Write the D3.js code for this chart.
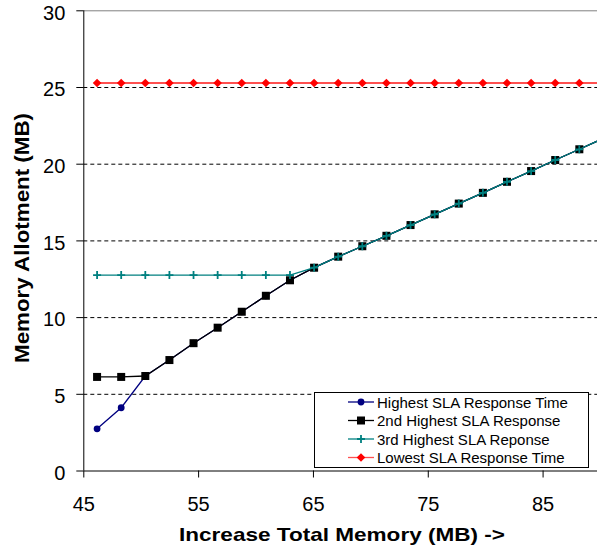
<!DOCTYPE html>
<html>
<head>
<meta charset="utf-8">
<script src="https://cdn.jsdelivr.net/npm/d3@7"></script>
<style>
  body { margin: 0; background: #fff; }
  svg { display: block; font-family: "Liberation Sans", Arial, sans-serif; }
</style>
</head>
<body>
<svg id="chart" width="597" height="550"></svg>
<script>
// memory points along the x axis (MB)
const totalMemory = [46.2, 48.3, 50.4, 52.5, 54.6, 56.7, 58.8, 60.9, 63.0, 65.1, 67.2,
  69.3, 71.4, 73.5, 75.6, 77.7, 79.8, 81.9, 84.0, 86.1, 88.2, 90.3];

const highestSLA = [2.72, 4.09, 6.16, 7.2, 8.3, 9.31, 10.35, 11.39, 12.4, 13.22, 13.94,
  14.62, 15.3, 16.0, 16.7, 17.4, 18.1, 18.82, 19.52, 20.24, 20.94, 21.65];
const secondSLA = [6.1, 6.1, 6.16, 7.2, 8.3, 9.31, 10.35, 11.39, 12.4, 13.22, 13.94,
  14.62, 15.3, 16.0, 16.7, 17.4, 18.1, 18.82, 19.52, 20.24, 20.94, 21.65];
const thirdSLA = [12.74, 12.74, 12.74, 12.74, 12.74, 12.74, 12.74, 12.74, 12.74, 13.22, 13.94,
  14.62, 15.3, 16.0, 16.7, 17.4, 18.1, 18.82, 19.52, 20.24, 20.94, 21.65];
const lowestSLA = [25.26, 25.26, 25.26, 25.26, 25.26, 25.26, 25.26, 25.26, 25.26, 25.26, 25.26,
  25.26, 25.26, 25.26, 25.26, 25.26, 25.26, 25.26, 25.26, 25.26, 25.26, 25.26];

const xTicks = [45, 55, 65, 75, 85];
const yTicks = [0, 5, 10, 15, 20, 25, 30];

const seriesNames = ["Highest SLA Response Time", "2nd Highest SLA Response",
  "3rd Highest SLA Reponse", "Lowest SLA Response Time"];

const series = [
  { name: seriesNames[0], values: highestSLA, color: "#000080", marker: "circle" },
  { name: seriesNames[1], values: secondSLA, color: "#000000", marker: "square" },
  { name: seriesNames[2], values: thirdSLA, color: "#008080", marker: "plus" },
  { name: seriesNames[3], values: lowestSLA, color: "#ff0000", marker: "diamond" },
];

const svg = d3.select("#chart");
const plotLeft = 83.3, plotRight = 600, plotTop = 10.3, plotBottom = 470.5;

const x = d3.scaleLinear().domain([45, 90]).range([plotLeft, plotRight]);
const y = d3.scaleLinear().domain([0, 30]).range([plotBottom, plotTop]);

svg.append("clipPath").attr("id", "plotClip")
  .append("rect")
  .attr("x", plotLeft).attr("y", plotTop - 6)
  .attr("width", plotRight - plotLeft).attr("height", plotBottom - plotTop + 12);

// grid lines
svg.append("g")
  .selectAll("line")
  .data(yTicks.filter((d) => d > 0 && d < 30))
  .join("line")
  .attr("x1", plotLeft).attr("x2", plotRight)
  .attr("y1", (d) => y(d) + 0.5).attr("y2", (d) => y(d) + 0.5)
  .attr("stroke", "#000")
  .attr("stroke-dasharray", "4,3");

// top border
svg.append("line")
  .attr("x1", plotLeft).attr("x2", plotRight)
  .attr("y1", y(30) + 0.5).attr("y2", y(30) + 0.5)
  .attr("stroke", "#808080");

// axes
const yAxis = svg.append("g")
  .attr("transform", `translate(${plotLeft},0)`)
  .call(d3.axisLeft(y).tickValues(yTicks).tickSize(7).tickPadding(0).tickFormat(d3.format("d")));
yAxis.select(".domain").attr("d", `M0.5,${plotTop}V${plotBottom}`).attr("stroke", "#000");
yAxis.selectAll(".tick line").attr("stroke", "#000");
yAxis.selectAll(".tick text")
  .attr("x", -18).attr("dy", null).attr("y", 8.7)
  .attr("font-size", 20).attr("fill", "#000")
  .style("font-family", "'Liberation Sans', Arial, sans-serif");

const xAxis = svg.append("g")
  .attr("transform", `translate(0,${plotBottom})`)
  .call(d3.axisBottom(x).tickValues(xTicks).tickSize(7).tickFormat(d3.format("d")));
xAxis.select(".domain").attr("d", `M${plotLeft},0.5H${plotRight}`).attr("stroke", "#000");
xAxis.selectAll(".tick line").attr("stroke", "#000");
xAxis.selectAll(".tick text")
  .attr("y", 40.5).attr("dy", null)
  .attr("font-size", 20).attr("fill", "#000")
  .style("font-family", "'Liberation Sans', Arial, sans-serif");

// axis titles
svg.append("text")
  .attr("x", 179).attr("y", 541)
  .attr("font-size", 19).attr("font-weight", "bold")
  .attr("textLength", 326).attr("lengthAdjust", "spacingAndGlyphs")
  .text("Increase Total Memory (MB) ->");

svg.append("text")
  .attr("transform", "translate(29,238) rotate(-90)")
  .attr("text-anchor", "middle")
  .attr("font-size", 21).attr("font-weight", "bold")
  .attr("textLength", 250).attr("lengthAdjust", "spacingAndGlyphs")
  .text("Memory Allotment (MB)");

function drawMarker(g, type, color) {
  if (type === "circle") {
    g.append("circle").attr("r", 3.4).attr("fill", color);
  } else if (type === "square") {
    g.append("rect").attr("x", -4).attr("y", -4).attr("width", 8).attr("height", 8).attr("fill", color);
  } else if (type === "plus") {
    g.append("path").attr("d", "M-4,0H4M0,-4V4").attr("stroke", color).attr("stroke-width", 1.8);
  } else {
    g.append("path").attr("d", "M0,-4.3L4.3,0L0,4.3L-4.3,0Z").attr("fill", color);
  }
}

const line = d3.line().x((d, i) => x(totalMemory[i])).y((d) => y(d));

const plot = svg.append("g").attr("clip-path", "url(#plotClip)");
series.forEach((s) => {
  const g = plot.append("g");
  g.append("path")
    .attr("d", line(s.values))
    .attr("fill", "none")
    .attr("stroke", s.marker === "diamond" ? "#ff5050" : s.color)
    .attr("stroke-width", s.marker === "diamond" ? 2 : 1.3);
  g.selectAll("g")
    .data(s.values)
    .join("g")
    .attr("transform", (d, i) => `translate(${x(totalMemory[i])},${y(d)})`)
    .each(function () { drawMarker(d3.select(this), s.marker, s.color); });
});

// legend
const legend = svg.append("g");
legend.append("rect")
  .attr("x", 314.5).attr("y", 392.5).attr("width", 274).attr("height", 75)
  .attr("fill", "#fff").attr("stroke", "#000");
const rowY = [402, 420.5, 439, 457.5];
series.forEach((s, i) => {
  const row = legend.append("g").attr("transform", `translate(0,${rowY[i]})`);
  row.append("line").attr("x1", 348).attr("x2", 374)
    .attr("stroke", s.marker === "diamond" ? "#ff5050" : s.color).attr("stroke-width", 1.3);
  drawMarker(row.append("g").attr("transform", "translate(361,0)"), s.marker, s.color);
  row.append("text")
    .attr("x", 377).attr("y", 5.5)
    .attr("font-size", 15).attr("fill", "#000")
    .text(s.name);
});
</script>
</body>
</html>
